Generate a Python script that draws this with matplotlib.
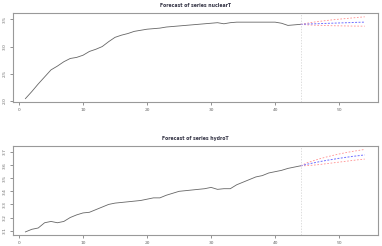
import numpy as np
import matplotlib
matplotlib.use("Agg")
import matplotlib.pyplot as plt

# observed series (t = 1..44)
t_obs = np.arange(1, 45)
nuclear = [2.04, 2.17, 2.31, 2.44, 2.57, 2.64, 2.72, 2.78, 2.80, 2.84,
           2.91, 2.95, 3.00, 3.09, 3.17, 3.21, 3.24, 3.28, 3.30, 3.32,
           3.33, 3.34, 3.36, 3.37, 3.38, 3.39, 3.40, 3.41, 3.42, 3.43,
           3.44, 3.42, 3.44, 3.45, 3.45, 3.45, 3.45, 3.45, 3.45, 3.45,
           3.43, 3.39, 3.40, 3.41]
hydro = [3.09, 3.11, 3.12, 3.16, 3.17, 3.16, 3.17, 3.20, 3.22, 3.235,
         3.24, 3.26, 3.28, 3.30, 3.31, 3.315, 3.32, 3.325, 3.33, 3.34,
         3.35, 3.35, 3.37, 3.385, 3.40, 3.405, 3.41, 3.415, 3.42, 3.43,
         3.415, 3.42, 3.42, 3.45, 3.47, 3.49, 3.51, 3.52, 3.54, 3.55,
         3.56, 3.575, 3.585, 3.595]

# forecasts (t = 45..54)
t_fc = np.arange(45, 55)
nuclear_mean = [3.415, 3.419, 3.423, 3.427, 3.431, 3.435, 3.439, 3.443, 3.447, 3.45]
nuclear_up = [3.43, 3.45, 3.465, 3.48, 3.493, 3.505, 3.516, 3.527, 3.538, 3.548]
nuclear_lo = [3.40, 3.395, 3.39, 3.387, 3.384, 3.382, 3.38, 3.378, 3.377, 3.376]
hydro_mean = [3.607, 3.617, 3.627, 3.636, 3.644, 3.652, 3.659, 3.666, 3.672, 3.678]
hydro_up = [3.618, 3.634, 3.649, 3.662, 3.674, 3.685, 3.695, 3.704, 3.712, 3.72]
hydro_lo = [3.596, 3.600, 3.605, 3.611, 3.617, 3.623, 3.629, 3.635, 3.641, 3.646]

panels = [
    ("Forecast of series nuclearT", nuclear, nuclear_mean, nuclear_up, nuclear_lo,
     [2.0, 2.5, 3.0, 3.5], (1.976, 3.618), [0.034, 0.585, 0.956, 0.362]),
    ("Forecast of series hydroT", hydro, hydro_mean, hydro_up, hydro_lo,
     [3.1, 3.2, 3.3, 3.4, 3.5, 3.6, 3.7], (3.067, 3.747), [0.034, 0.045, 0.956, 0.362]),
]

fig = plt.figure(figsize=(3.82, 2.46), dpi=100)

for title, obs, mean, up, lo, yticks, ylim, pos in panels:
    ax = fig.add_axes(pos)
    ax.plot(t_obs, obs, color="#666666", lw=0.6)
    # forecast lines joined to the last observation
    tt = np.concatenate([[t_obs[-1]], t_fc])
    ax.plot(tt, [obs[-1]] + up, color="#ff9090", lw=0.6, ls=(0, (2, 2)))
    ax.plot(tt, [obs[-1]] + lo, color="#ff9090", lw=0.6, ls=(0, (2, 2)))
    ax.plot(tt, [obs[-1]] + mean, color="#7070ff", lw=0.7, ls=(0, (2, 1.5)))
    ax.axvline(t_obs[-1], color="#d0d0d0", lw=0.5, ls=(0, (2, 2)))
    ax.set_xlim(-0.94, 56.1)
    ax.set_ylim(*ylim)
    ax.set_xticks([0, 10, 20, 30, 40, 50])
    ax.set_yticks(yticks)
    ax.set_yticklabels([f"{v:.1f}" for v in yticks], rotation=90, va="center")
    ax.tick_params(labelsize=3.2, length=2, width=0.5, pad=2.5, colors="#666666")
    for s in ax.spines.values():
        s.set_color("#999999")
        s.set_linewidth(0.8)
    ax.set_title(title, fontsize=3.3, fontweight="bold", pad=4, color="#333344")

fig.savefig("out.png", dpi=100)
